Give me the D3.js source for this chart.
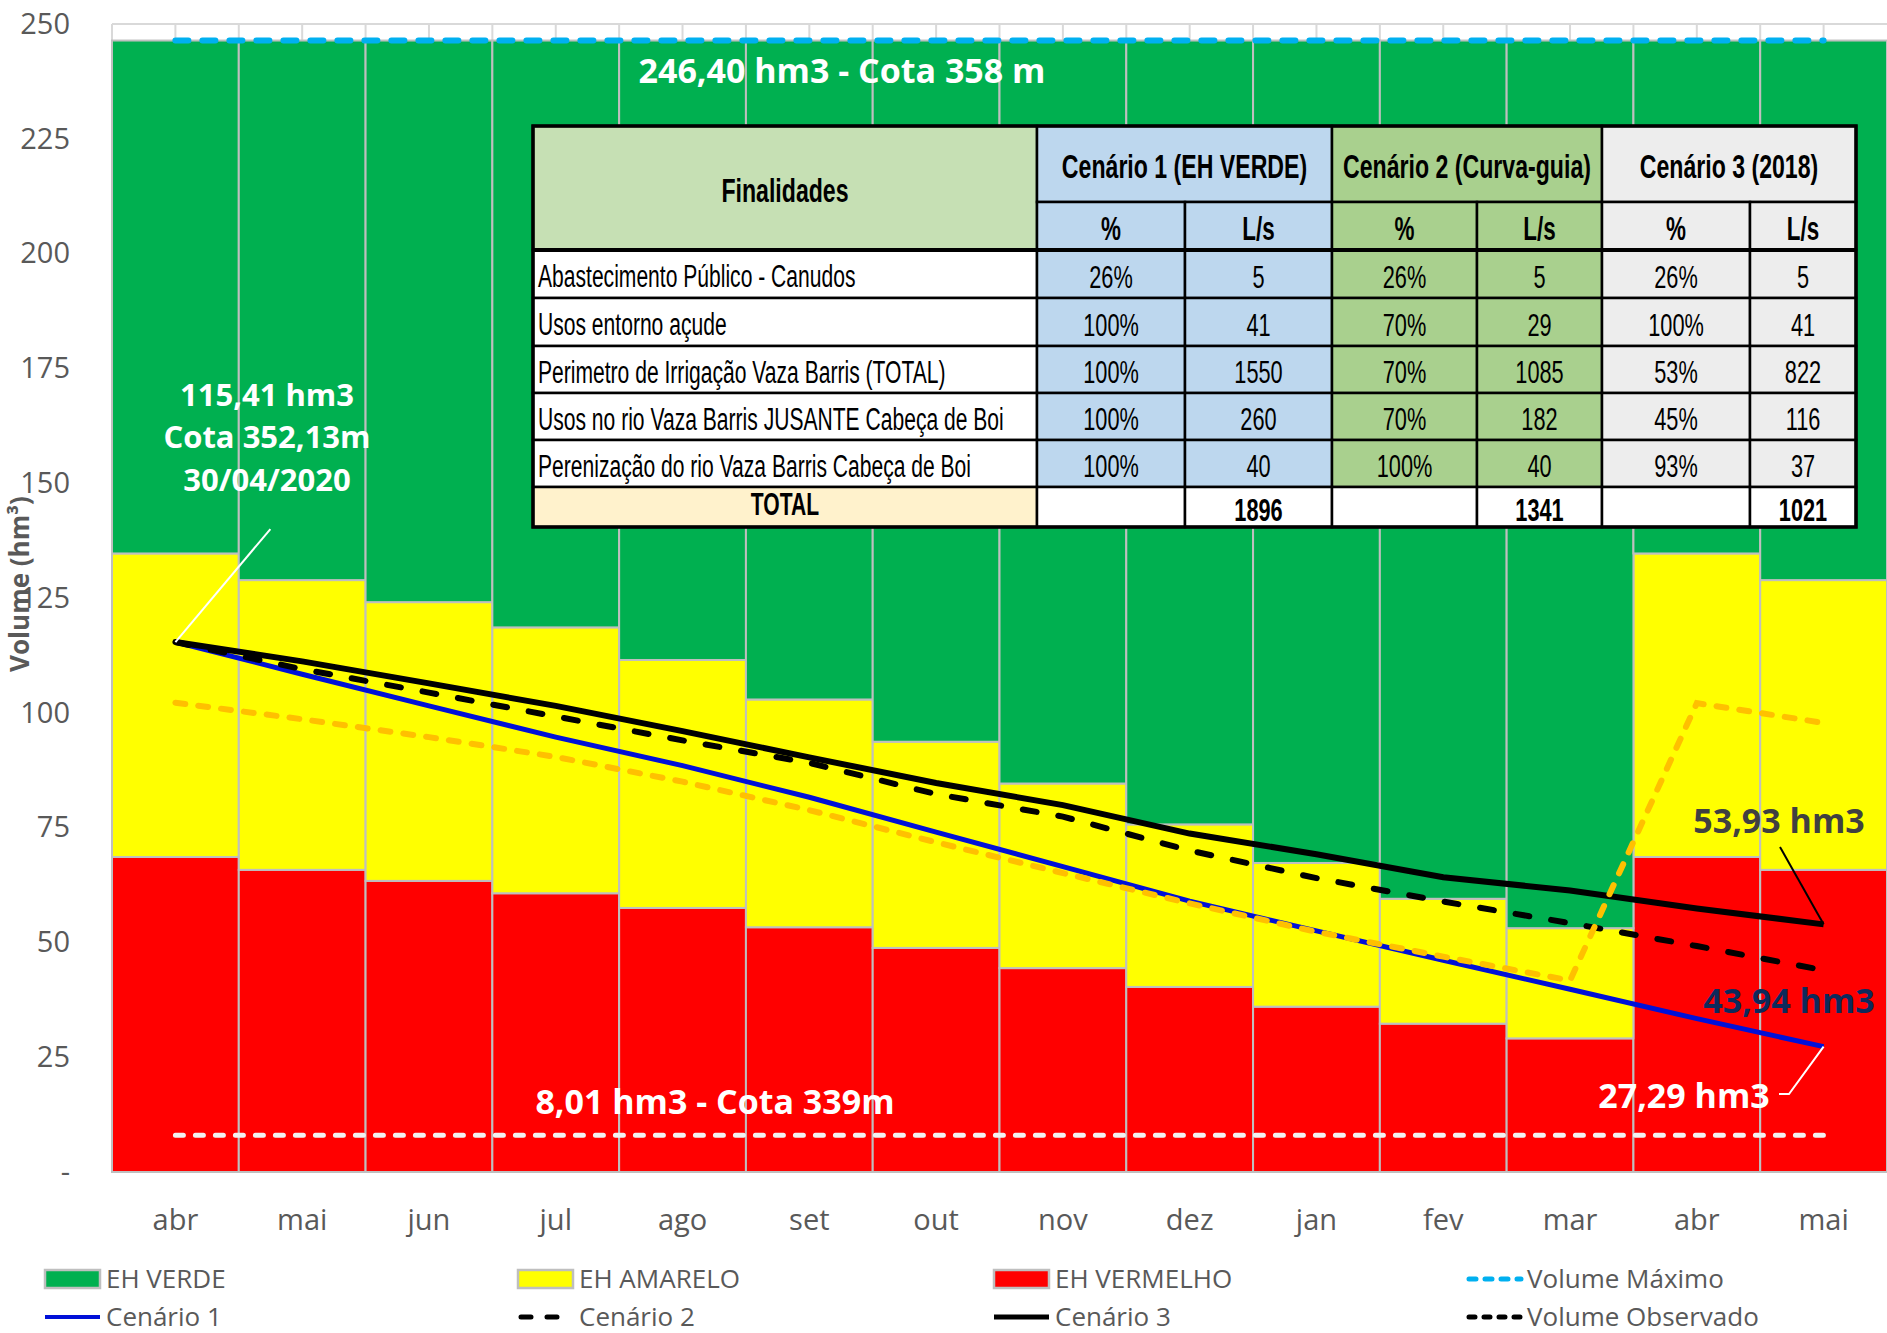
<!DOCTYPE html>
<html>
<head>
<meta charset="utf-8">
<script src="https://cdn.jsdelivr.net/npm/d3@7"></script>
<style>
  body { margin: 0; background: #fff; }
  text { font-family: "Open Sans", sans-serif; }
</style>
</head>
<body>
<div class="canvas"></div>
<script>
const dims = { width: 1887, height: 1333 };

const margin = { top: 24, right: 0, bottom: 161, left: 112 };

// categorias (meses)
const months = ['abr', 'mai', 'jun', 'jul', 'ago', 'set', 'out', 'nov', 'dez', 'jan', 'fev', 'mar', 'abr', 'mai'];

// faixas de estado hidrologico (empilhadas)
const ehVermelho = [68.6, 65.8, 63.4, 60.7, 57.5, 53.3, 48.8, 44.4, 40.3, 36.0, 32.3, 29.1, 68.6, 65.8];
const ehAmarelo = [66.1, 63.1, 60.7, 57.9, 54.0, 49.6, 44.9, 40.2, 35.4, 31.3, 27.2, 24.0, 66.1, 63.1];
const ehVerde = [111.7, 117.5, 122.3, 127.8, 134.9, 143.5, 152.7, 161.8, 170.7, 179.1, 186.9, 193.3, 111.7, 117.5];

// cenarios de volume (hm3)
const cenario1 = [115.41, 108.4, 101.5, 94.7, 88.5, 81.6, 74.0, 66.5, 59.0, 52.5, 46.1, 39.8, 33.4, 27.29];
const cenario2 = [115.41, 109.5, 104.4, 99.2, 94.0, 89.1, 82.3, 77.4, 70.0, 64.0, 58.9, 54.2, 49.2, 43.94];
const cenario3 = [115.41, 111.2, 106.4, 101.5, 96.0, 90.3, 84.7, 79.9, 73.7, 69.2, 64.2, 61.3, 57.4, 53.93];
const linhaLaranja = [102.2, 98.6, 94.7, 90.4, 85.0, 78.8, 71.8, 65.1, 58.5, 52.3, 46.9, 41.7, 102.1, 97.8];

const volumeMaximo = 246.4;
const volumeMinimo = 8.01;

const yTicks = [0, 25, 50, 75, 100, 125, 150, 175, 200, 225, 250];

// tabela
const finalidades = [
  'Abastecimento Público - Canudos',
  'Usos entorno açude',
  'Perimetro de Irrigação Vaza Barris (TOTAL)',
  'Usos no rio Vaza Barris JUSANTE Cabeça de Boi',
  'Perenização do rio Vaza Barris Cabeça de Boi'
];
const cenarioNomes = ['Cenário 1 (EH VERDE)', 'Cenário 2 (Curva-guia)', 'Cenário 3 (2018)'];
const c1Pct = ['26%', '100%', '100%', '100%', '100%'];
const c1Ls = [5, 41, 1550, 260, 40];
const c2Pct = ['26%', '70%', '70%', '70%', '100%'];
const c2Ls = [5, 29, 1085, 182, 40];
const c3Pct = ['26%', '100%', '53%', '45%', '93%'];
const c3Ls = [5, 41, 822, 116, 37];
const totais = [1896, 1341, 1021];

const svg = d3.select('.canvas').append('svg')
  .attr('width', dims.width)
  .attr('height', dims.height);

const x = d3.scaleBand()
  .domain(d3.range(months.length))
  .range([margin.left, dims.width - margin.right])
  .padding(0);

const y = d3.scaleLinear()
  .domain([0, 250])
  .range([dims.height - margin.bottom, margin.top]);

const cx = i => x(i) + x.bandwidth() / 2;

// gridlines
const grid = svg.append('g');
grid.selectAll('line.h').data(yTicks).enter().append('line')
  .attr('x1', margin.left).attr('x2', dims.width)
  .attr('y1', d => y(d)).attr('y2', d => y(d))
  .attr('stroke', '#d9d9d9').attr('stroke-width', 2);
const vpos = [];
d3.range(months.length).forEach(i => { vpos.push(x(i)); vpos.push(cx(i)); });
grid.selectAll('line.v').data(vpos).enter().append('line')
  .attr('x1', d => d).attr('x2', d => d)
  .attr('y1', y(250)).attr('y2', y(0))
  .attr('stroke', '#d9d9d9').attr('stroke-width', 2);

// stacked bars
const rows = months.map((m, i) => ({ i, vermelho: ehVermelho[i], amarelo: ehAmarelo[i], verde: ehVerde[i] }));
const stack = d3.stack().keys(['vermelho', 'amarelo', 'verde']);
const color = d3.scaleOrdinal()
  .domain(['vermelho', 'amarelo', 'verde'])
  .range(['#ff0000', '#ffff00', '#00b050']);

const layers = svg.append('g').selectAll('g')
  .data(stack(rows))
  .enter().append('g')
    .attr('fill', d => color(d.key));

layers.selectAll('rect')
  .data(d => d)
  .enter().append('rect')
    .attr('x', d => x(d.data.i))
    .attr('width', x.bandwidth())
    .attr('y', d => y(d[1]))
    .attr('height', d => y(d[0]) - y(d[1]))
    .attr('stroke', '#bfbfbf')
    .attr('stroke-width', 2);

// axes
const yAxis = d3.axisLeft(y)
  .tickValues(yTicks)
  .tickSize(0)
  .tickPadding(42)
  .tickFormat(d => d === 0 ? '-' : d);
const yG = svg.append('g')
  .attr('transform', `translate(${margin.left}, 0)`)
  .call(yAxis);
yG.select('.domain').remove();
yG.selectAll('text')
  .style('font-family', '"Open Sans", sans-serif')
  .style('font-size', '29px')
  .attr('fill', '#595959');

const xAxis = d3.axisBottom(x)
  .tickSize(0)
  .tickPadding(37)
  .tickFormat(i => months[i]);
const xG = svg.append('g')
  .attr('transform', `translate(0, ${y(0)})`)
  .call(xAxis);
xG.select('.domain').remove();
xG.selectAll('text')
  .style('font-family', '"Open Sans", sans-serif')
  .style('font-size', '29px')
  .attr('fill', '#595959');

svg.append('text')
  .attr('transform', `translate(29, ${y(125) - 14}) rotate(-90)`)
  .attr('text-anchor', 'middle')
  .attr('fill', '#595959')
  .style('font-size', '26px')
  .style('font-weight', 'bold')
  .text('Volume (hm³)');

// lines
const line = d3.line()
  .x((d, i) => cx(i))
  .y(d => y(d));

const last = months.length - 1;

svg.append('path').datum(cenario1)
  .attr('d', line).attr('fill', 'none')
  .attr('stroke', '#0010d8').attr('stroke-width', 5);

svg.append('path').datum(cenario2)
  .attr('d', line).attr('fill', 'none')
  .attr('stroke', '#000').attr('stroke-width', 6)
  .attr('stroke-dasharray', '14,22').attr('stroke-linecap', 'round');

svg.append('path').datum(cenario3)
  .attr('d', line).attr('fill', 'none')
  .attr('stroke', '#000').attr('stroke-width', 6);

svg.append('path').datum(linhaLaranja)
  .attr('d', line).attr('fill', 'none')
  .attr('stroke', '#ffc000').attr('stroke-width', 6)
  .attr('stroke-dasharray', '10,13').attr('stroke-linecap', 'round');

// volume minimo e maximo
svg.append('line')
  .attr('x1', cx(0)).attr('x2', cx(last))
  .attr('y1', y(volumeMinimo)).attr('y2', y(volumeMinimo))
  .attr('stroke', '#f2f2f2').attr('stroke-width', 5)
  .attr('stroke-dasharray', '8,12').attr('stroke-linecap', 'round');

svg.append('line')
  .attr('x1', cx(0)).attr('x2', cx(last))
  .attr('y1', y(volumeMaximo)).attr('y2', y(volumeMaximo))
  .attr('stroke', '#00b0f0').attr('stroke-width', 6)
  .attr('stroke-dasharray', '13,14').attr('stroke-linecap', 'round');

// anotacoes
const note = (tx, ty, str, fill, size) => svg.append('text')
  .attr('x', tx).attr('y', ty)
  .attr('text-anchor', 'middle')
  .attr('fill', fill)
  .style('font-size', size + 'px')
  .style('font-weight', 'bold')
  .text(str);

note(842, y(volumeMaximo) + 42, '246,40 hm3 - Cota 358 m', '#fff', 34);
note(715, y(volumeMinimo) - 21, '8,01 hm3 - Cota 339m', '#fff', 34);
note(267, 406, '115,41 hm3', '#fff', 31);
note(267, 448, 'Cota 352,13m', '#fff', 31);
note(267, 491, '30/04/2020', '#fff', 31);
note(1779, 833, '53,93 hm3', '#404040', 34);
note(1789, 1013, '43,94 hm3', '#0d2a5c', 34);
note(1684, 1108, '27,29 hm3', '#fff', 34);

svg.append('line')
  .attr('x1', cx(0)).attr('y1', y(cenario1[0]))
  .attr('x2', cx(0) + 95).attr('y2', y(cenario1[0]) - 113)
  .attr('stroke', '#fff').attr('stroke-width', 2);

svg.append('line')
  .attr('x1', 1780).attr('y1', 847)
  .attr('x2', cx(last)).attr('y2', y(cenario3[last]))
  .attr('stroke', '#000').attr('stroke-width', 2);

svg.append('polyline')
  .attr('points', `1779,1094 1789,1094 ${cx(last)},${y(cenario1[last])}`)
  .attr('fill', 'none')
  .attr('stroke', '#fff').attr('stroke-width', 2);

// tabela
const tblCols = [533, 1037, 1185, 1332, 1477, 1602, 1750, 1856];
const tblRows = [126, 202, 250, 298, 346, 393, 440, 487, 527];
const groupFill = ['#bdd7ee', '#a9d08e', '#ededed'];
const squeeze = 0.68;

const tbl = svg.append('g');

const cell = (c0, c1, r0, r1, fill) => tbl.append('rect')
  .attr('x', tblCols[c0]).attr('y', tblRows[r0])
  .attr('width', tblCols[c1] - tblCols[c0])
  .attr('height', tblRows[r1] - tblRows[r0])
  .attr('fill', fill)
  .attr('stroke', '#000')
  .attr('stroke-width', 2.5);

const cellText = (tx, ty, str, anchor, size, bold) => tbl.append('text')
  .attr('transform', `translate(${tx}, ${ty}) scale(${squeeze}, 1)`)
  .attr('text-anchor', anchor)
  .attr('fill', '#000')
  .style('font-family', '"Liberation Sans", Arial, sans-serif')
  .style('font-size', size + 'px')
  .style('font-weight', bold ? 'bold' : 'normal')
  .text(str);

const midX = (c0, c1) => (tblCols[c0] + tblCols[c1]) / 2;
const baseY = (r0, r1, size) => (tblRows[r0] + tblRows[r1]) / 2 + size * 0.36 + 2;

// cabecalho
cell(0, 1, 0, 2, '#c6e0b4');
cellText(midX(0, 1), baseY(0, 2, 34), 'Finalidades', 'middle', 34, true);
cenarioNomes.forEach((nome, g) => {
  const c0 = 1 + g * 2;
  cell(c0, c0 + 2, 0, 1, groupFill[g]);
  cellText(midX(c0, c0 + 2), baseY(0, 1, 34), nome, 'middle', 34, true);
  cell(c0, c0 + 1, 1, 2, groupFill[g]);
  cellText(midX(c0, c0 + 1), baseY(1, 2, 33), '%', 'middle', 33, true);
  cell(c0 + 1, c0 + 2, 1, 2, groupFill[g]);
  cellText(midX(c0 + 1, c0 + 2), baseY(1, 2, 33), 'L/s', 'middle', 33, true);
});

// linhas de dados
const pcts = [c1Pct, c2Pct, c3Pct];
const lss = [c1Ls, c2Ls, c3Ls];
finalidades.forEach((f, r) => {
  const r0 = 2 + r;
  cell(0, 1, r0, r0 + 1, '#fff');
  cellText(tblCols[0] + 5, baseY(r0, r0 + 1, 31), f, 'start', 31, false);
  pcts.forEach((p, g) => {
    const c0 = 1 + g * 2;
    cell(c0, c0 + 1, r0, r0 + 1, groupFill[g]);
    cellText(midX(c0, c0 + 1), baseY(r0, r0 + 1, 32), p[r], 'middle', 32, false);
    cell(c0 + 1, c0 + 2, r0, r0 + 1, groupFill[g]);
    cellText(midX(c0 + 1, c0 + 2), baseY(r0, r0 + 1, 32), lss[g][r], 'middle', 32, false);
  });
});

// total
cell(0, 1, 7, 8, '#fff2cc');
cellText(midX(0, 1), baseY(7, 8, 31) - 5, 'TOTAL', 'middle', 31, true);
totais.forEach((t, g) => {
  const c0 = 1 + g * 2;
  cell(c0, c0 + 1, 7, 8, '#fff');
  cell(c0 + 1, c0 + 2, 7, 8, '#fff');
  cellText(midX(c0 + 1, c0 + 2), baseY(7, 8, 32), t, 'middle', 32, true);
});

tbl.append('rect')
  .attr('x', tblCols[0]).attr('y', tblRows[0])
  .attr('width', tblCols[7] - tblCols[0])
  .attr('height', tblRows[8] - tblRows[0])
  .attr('fill', 'none').attr('stroke', '#000').attr('stroke-width', 3.5);
tbl.append('line')
  .attr('x1', tblCols[0]).attr('x2', tblCols[7])
  .attr('y1', tblRows[2]).attr('y2', tblRows[2])
  .attr('stroke', '#000').attr('stroke-width', 4);

// legenda
const legendItems = [
  { name: 'EH VERDE', type: 'rect', color: '#00b050' },
  { name: 'EH AMARELO', type: 'rect', color: '#ffff00' },
  { name: 'EH VERMELHO', type: 'rect', color: '#ff0000' },
  { name: 'Volume Máximo', type: 'line', color: '#00b0f0', dash: '7,9', w: 5, cap: 'round' },
  { name: 'Cenário 1', type: 'line', color: '#0010d8', w: 4 },
  { name: 'Cenário 2', type: 'line', color: '#000', dash: '10,16', w: 5, cap: 'round' },
  { name: 'Cenário 3', type: 'line', color: '#000', w: 5 },
  { name: 'Volume Observado', type: 'line', color: '#000', dash: '6,9', w: 5, cap: 'round' }
];
const legCols = [45, 518, 994, 1466];
const legRows = [1279, 1317];

const leg = svg.append('g').selectAll('g')
  .data(legendItems)
  .enter().append('g')
    .attr('transform', (d, i) => `translate(${legCols[i % 4]}, ${legRows[Math.floor(i / 4)]})`);

leg.filter(d => d.type === 'rect').append('rect')
  .attr('x', 0).attr('y', -9)
  .attr('width', 55).attr('height', 18)
  .attr('fill', d => d.color)
  .attr('stroke', '#bfbfbf').attr('stroke-width', 2.5);

leg.filter(d => d.type === 'line').append('line')
  .attr('x1', d => d.cap ? 3 : 0).attr('x2', 55)
  .attr('y1', 0).attr('y2', 0)
  .attr('stroke', d => d.color)
  .attr('stroke-width', d => d.w)
  .attr('stroke-dasharray', d => d.dash || null)
  .attr('stroke-linecap', d => d.cap || 'butt');

leg.append('text')
  .attr('x', 61).attr('y', 9)
  .attr('fill', '#595959')
  .style('font-size', '26px')
  .text(d => d.name);
</script>
</body>
</html>
